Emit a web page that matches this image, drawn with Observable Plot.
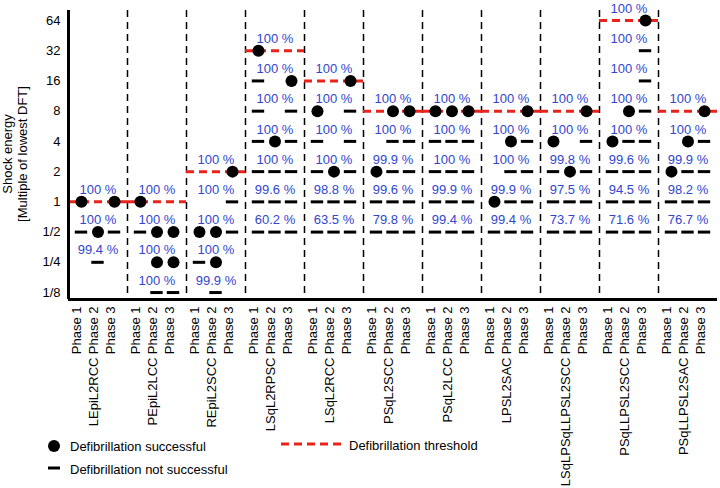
<!DOCTYPE html>
<html><head><meta charset="utf-8">
<script src="https://cdn.jsdelivr.net/npm/d3@7"></script>
<script src="https://cdn.jsdelivr.net/npm/@observablehq/plot@0.6"></script>
<style>
body{margin:0;background:#fff;}
#wrap{position:relative;width:720px;height:488px;font-family:"Liberation Sans",Arial,sans-serif;}
#wrap svg{display:block;}
#overlay{position:absolute;left:0;top:0;pointer-events:none;}
</style></head><body><div id="wrap"></div>
<script>
// ---- data ----
const groups = ["LEpiL2RCC","PEpiL2LCC","REpiL2SCC","LSqL2RPSC","LSqL2RCC","PSqL2SCC","PSqL2LCC","LPSL2SAC","LSqLPSqLLPSL2SCC","PSqLLPSL2SCC","PSqLLPSL2SAC"];
const thresholds = [1, 1, 2, 32, 16, 8, 8, 8, 8, 64, 8];
const phases = ["Phase 1","Phase 2","Phase 3"];
const levels = [1/8, 1/4, 1/2, 1, 2, 4, 8, 16, 32, 64];
const levelLabels = ["1/8","1/4","1/2","1","2","4","8","16","32","64"];
// [group, shock energy, outcome per phase (S = successful, F = not successful, . = none), percentage]
const results = [
  ["LEpiL2RCC", 1, "S.S", "100 %"],
  ["LEpiL2RCC", 1/2, "FSF", "100 %"],
  ["LEpiL2RCC", 1/4, ".F.", "99.4 %"],
  ["PEpiL2LCC", 1, "S..", "100 %"],
  ["PEpiL2LCC", 1/2, "FSS", "100 %"],
  ["PEpiL2LCC", 1/4, ".SS", "100 %"],
  ["PEpiL2LCC", 1/8, ".FF", "100 %"],
  ["REpiL2SCC", 2, "..S", "100 %"],
  ["REpiL2SCC", 1, "..F", "100 %"],
  ["REpiL2SCC", 1/2, "SSF", "100 %"],
  ["REpiL2SCC", 1/4, "FS.", "100 %"],
  ["REpiL2SCC", 1/8, ".F.", "99.9 %"],
  ["LSqL2RPSC", 32, "S..", "100 %"],
  ["LSqL2RPSC", 16, "F.S", "100 %"],
  ["LSqL2RPSC", 8, "F.F", "100 %"],
  ["LSqL2RPSC", 4, "FSF", "100 %"],
  ["LSqL2RPSC", 2, "FFF", "100 %"],
  ["LSqL2RPSC", 1, "FFF", "99.6 %"],
  ["LSqL2RPSC", 1/2, "FFF", "60.2 %"],
  ["LSqL2RCC", 16, "..S", "100 %"],
  ["LSqL2RCC", 8, "S.F", "100 %"],
  ["LSqL2RCC", 4, "F.F", "100 %"],
  ["LSqL2RCC", 2, "FSF", "100 %"],
  ["LSqL2RCC", 1, "FFF", "98.8 %"],
  ["LSqL2RCC", 1/2, "FFF", "63.5 %"],
  ["PSqL2SCC", 8, ".SS", "100 %"],
  ["PSqL2SCC", 4, ".FF", "100 %"],
  ["PSqL2SCC", 2, "SFF", "99.9 %"],
  ["PSqL2SCC", 1, "FFF", "99.6 %"],
  ["PSqL2SCC", 1/2, "FFF", "79.8 %"],
  ["PSqL2LCC", 8, "SSS", "100 %"],
  ["PSqL2LCC", 4, "FFF", "100 %"],
  ["PSqL2LCC", 2, "FFF", "100 %"],
  ["PSqL2LCC", 1, "FFF", "99.9 %"],
  ["PSqL2LCC", 1/2, "FFF", "99.4 %"],
  ["LPSL2SAC", 8, "..S", "100 %"],
  ["LPSL2SAC", 4, ".SF", "100 %"],
  ["LPSL2SAC", 2, ".FF", "100 %"],
  ["LPSL2SAC", 1, "SFF", "99.9 %"],
  ["LPSL2SAC", 1/2, "FFF", "99.4 %"],
  ["LSqLPSqLLPSL2SCC", 8, "..S", "100 %"],
  ["LSqLPSqLLPSL2SCC", 4, "S.F", "100 %"],
  ["LSqLPSqLLPSL2SCC", 2, "FSF", "99.8 %"],
  ["LSqLPSqLLPSL2SCC", 1, "FFF", "97.5 %"],
  ["LSqLPSqLLPSL2SCC", 1/2, "FFF", "73.7 %"],
  ["PSqLLPSL2SCC", 64, "..S", "100 %"],
  ["PSqLLPSL2SCC", 32, "..F", "100 %"],
  ["PSqLLPSL2SCC", 16, "..F", "100 %"],
  ["PSqLLPSL2SCC", 8, ".SF", "100 %"],
  ["PSqLLPSL2SCC", 4, "SFF", "100 %"],
  ["PSqLLPSL2SCC", 2, "FFF", "99.6 %"],
  ["PSqLLPSL2SCC", 1, "FFF", "94.5 %"],
  ["PSqLLPSL2SCC", 1/2, "FFF", "71.6 %"],
  ["PSqLLPSL2SAC", 8, "..S", "100 %"],
  ["PSqLLPSL2SAC", 4, ".SF", "100 %"],
  ["PSqLLPSL2SAC", 2, "SFF", "99.9 %"],
  ["PSqLLPSL2SAC", 1, "FFF", "98.2 %"],
  ["PSqLLPSL2SAC", 1/2, "FFF", "76.7 %"]
];

// ---- layout helpers ----
const phaseOffset = [-0.28, 0, 0.28];
const dashHalf = 0.105;
const gi = name => groups.indexOf(name);

const markers = [];
results.forEach(([g, e, codes]) => {
  codes.split("").forEach((c, i) => {
    if (c !== ".") markers.push({x: gi(g) + phaseOffset[i], e, ok: c === "S"});
  });
});
const phaseTicks = groups.flatMap((g, k) => phases.map((p, i) => ({x: k + phaseOffset[i], p})));
const thr = groups.map((g, k) => ({k, t: thresholds[k]}));
const dividers = d3.range(groups.length - 1).map(k => k + 0.5);

const blue = "#3146cf";
const red = "#e8231b";
const yMin = 2 ** -3.23, yMax = 2 ** 6.33;

const chart = Plot.plot({
  width: 720, height: 488,
  marginLeft: 68, marginRight: 3, marginTop: 10, marginBottom: 189,
  x: {type: "linear", domain: [-0.5, groups.length - 0.5], axis: null},
  y: {type: "log", base: 2, domain: [yMin, yMax], axis: null},
  style: {fontFamily: "'Liberation Sans', Arial, sans-serif", fontSize: "13px", color: "black", background: "white"},
  marks: [
    Plot.ruleX(dividers, {stroke: "black", strokeWidth: 1.5, strokeDasharray: "7,5"}),
    Plot.ruleY(thr, {y: "t", x1: d => d.k - 0.5, x2: d => d.k + 0.5, stroke: red, strokeWidth: 3, strokeDasharray: "8,5"}),
    Plot.ruleY(markers.filter(d => !d.ok), {y: "e", x1: d => d.x - dashHalf, x2: d => d.x + dashHalf, stroke: "black", strokeWidth: 3}),
    Plot.dot(markers.filter(d => d.ok), {x: "x", y: "e", r: 6, fill: "black", stroke: null}),
    Plot.text(results, {x: d => gi(d[0]), y: d => d[1], text: d => d[3], dy: -12, fill: blue, fontSize: 13}),
    Plot.text(levels, {y: d => d, text: (d, i) => levelLabels[i], frameAnchor: "left", textAnchor: "end", dx: -8, fill: "black", fontSize: 13}),
    Plot.ruleX([-0.5], {stroke: "black", strokeWidth: 3}),
    Plot.ruleY([yMin], {stroke: "black", strokeWidth: 3}),
    Plot.text(phaseTicks, {x: "x", text: "p", frameAnchor: "bottom", rotate: -90, textAnchor: "end", dy: 7, fill: "black", fontSize: 13}),
    Plot.text(groups, {x: (d, i) => i, text: d => d, frameAnchor: "bottom", rotate: -90, textAnchor: "end", dy: 58, fill: "black", fontSize: 13})
  ]
});

const wrap = document.getElementById("wrap");
wrap.appendChild(chart);

// y-axis title and legend overlay
const ns = "http://www.w3.org/2000/svg";
const ov = document.createElementNS(ns, "svg");
ov.setAttribute("id", "overlay");
ov.setAttribute("width", 720);
ov.setAttribute("height", 488);
ov.setAttribute("font-family", "'Liberation Sans', Arial, sans-serif");
ov.setAttribute("font-size", "13");
ov.innerHTML = `
  <text transform="translate(11.5,154) rotate(-90)" text-anchor="middle">Shock energy</text>
  <text transform="translate(27,154) rotate(-90)" text-anchor="middle">[Multiple of lowest DFT]</text>
  <circle cx="54" cy="446" r="6" fill="black"/>
  <text x="70" y="446" dy="0.35em">Defibrillation successful</text>
  <line x1="48" x2="60" y1="468" y2="468" stroke="black" stroke-width="3"/>
  <text x="70" y="469" dy="0.35em">Defibrillation not successful</text>
  <line x1="281" x2="342" y1="444" y2="444" stroke="${red}" stroke-width="3" stroke-dasharray="8,5"/>
  <text x="349" y="445" dy="0.35em">Defibrillation threshold</text>
`;
wrap.appendChild(ov);
</script>
</body></html>
